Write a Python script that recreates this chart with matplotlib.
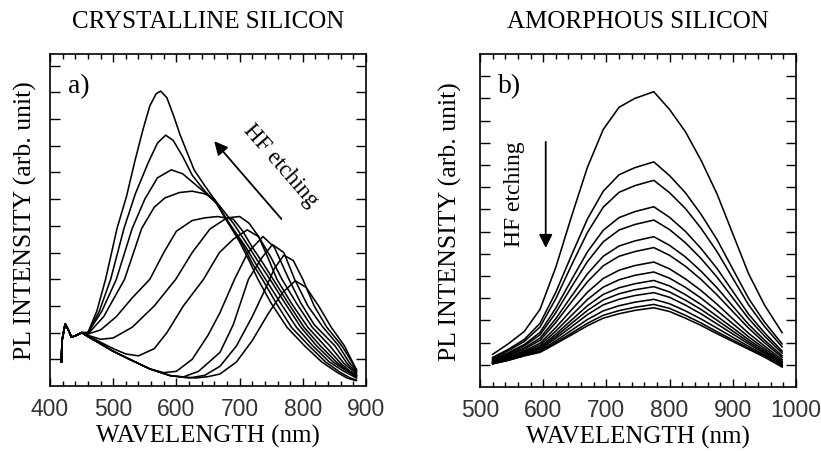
import matplotlib
matplotlib.use('Agg')
import matplotlib.pyplot as plt
from matplotlib.ticker import MultipleLocator

plt.rcParams['font.family'] = 'Liberation Serif'

# ---- crystalline silicon (panel a) ----
# shared start of every spectrum (laser line region)
cs_start_wl = [418, 419, 424, 429, 434, 442, 450]
cs_start_pl = [0.9, 1.7, 2.33, 2.1, 1.83, 1.9, 2.0]

a_wl = [460, 474, 488, 506, 521, 534, 547, 558, 568, 575, 585, 596, 606, 628, 645, 660, 680, 700, 715, 729, 750, 775, 803, 830, 855, 870, 884]
a_pl = [2.0, 2.8, 4.0, 5.9, 7.1, 8.4, 9.6, 10.5, 10.95, 11.05, 10.8, 10.1, 9.4, 8.1, 7.5, 7.0, 6.2, 5.4, 4.7, 4.0, 3.1, 2.2, 1.5, 0.9, 0.5, 0.3, 0.2]
b_wl = [460, 478, 496, 517, 535, 556, 570, 583, 595, 610, 625, 645, 662, 682, 705, 720, 736, 758, 782, 810, 836, 860, 875, 885]
b_pl = [2.0, 2.8, 4.0, 5.9, 7.2, 8.4, 9.1, 9.4, 9.2, 8.6, 7.9, 7.3, 6.9, 6.1, 5.3, 4.6, 4.0, 3.1, 2.2, 1.5, 0.9, 0.5, 0.3, 0.22]
c_wl = [460, 482, 505, 530, 550, 570, 592, 610, 630, 650, 665, 685, 710, 725, 741, 765, 790, 816, 842, 865, 885]
c_pl = [2.0, 2.8, 4.0, 5.9, 7.0, 7.8, 8.1, 7.95, 7.55, 7.15, 6.8, 6.05, 5.2, 4.6, 4.0, 3.1, 2.2, 1.5, 0.9, 0.55, 0.3]
d_wl = [460, 485, 518, 545, 565, 582, 605, 625, 645, 660, 690, 715, 731, 748, 772, 797, 822, 848, 870, 885]
d_pl = [1.95, 2.6, 4.0, 5.9, 6.7, 7.05, 7.25, 7.3, 7.2, 7.0, 6.1, 5.2, 4.6, 4.0, 3.1, 2.2, 1.5, 0.9, 0.55, 0.35]
e_wl = [460, 480, 505, 530, 558, 580, 600, 625, 645, 665, 690, 705, 720, 737, 753, 777, 802, 828, 853, 872, 885]
e_pl = [1.95, 2.1, 2.6, 3.3, 4.0, 5.0, 5.8, 6.2, 6.3, 6.35, 6.25, 5.8, 5.2, 4.6, 4.0, 3.1, 2.2, 1.5, 0.9, 0.55, 0.4]
f_wl = [460, 480, 500, 530, 565, 599, 625, 653, 680, 700, 715, 730, 745, 759, 782, 808, 835, 860, 875, 885]
f_pl = [1.9, 1.75, 1.8, 2.2, 3.0, 4.0, 5.0, 5.88, 6.3, 6.35, 6.1, 5.6, 4.8, 4.0, 3.1, 2.2, 1.5, 0.85, 0.55, 0.4]
g_wl = [460, 475, 500, 520, 540, 565, 585, 611, 643, 668, 690, 712, 730, 750, 767, 790, 815, 843, 865, 885]
g_pl = [1.9, 1.7, 1.4, 1.2, 1.13, 1.4, 2.0, 3.0, 4.0, 5.0, 5.5, 5.85, 5.6, 4.8, 4.0, 3.1, 2.2, 1.5, 0.85, 0.45]
h_wl = [460, 475, 500, 526, 558, 580, 600, 625, 650, 669, 692, 713, 737, 755, 778, 797, 818, 851, 870, 885]
h_pl = [1.85, 1.65, 1.3, 1.0, 0.64, 0.5, 0.55, 1.0, 1.9, 2.75, 4.0, 5.0, 5.6, 5.2, 4.0, 3.1, 2.3, 1.5, 0.85, 0.5]
i_wl = [460, 475, 500, 526, 558, 590, 610, 635, 669, 690, 714, 735, 752, 770, 787, 808, 832, 857, 873, 885]
i_pl = [1.85, 1.65, 1.3, 1.0, 0.64, 0.39, 0.33, 0.55, 1.26, 2.3, 4.0, 4.8, 5.3, 5.0, 4.0, 3.0, 2.2, 1.5, 0.9, 0.55]
j_wl = [460, 475, 500, 526, 558, 590, 620, 645, 669, 695, 720, 740, 755, 770, 785, 800, 818, 838, 862, 875, 885]
j_pl = [1.85, 1.65, 1.3, 1.0, 0.64, 0.39, 0.3, 0.4, 0.74, 1.5, 2.6, 3.6, 4.4, 4.9, 4.7, 4.0, 3.0, 2.2, 1.5, 1.0, 0.6]
k_wl = [460, 475, 500, 526, 558, 590, 630, 650, 669, 695, 720, 745, 768, 788, 805, 825, 845, 866, 885]
k_pl = [1.85, 1.65, 1.3, 1.0, 0.64, 0.39, 0.3, 0.35, 0.45, 0.9, 1.7, 2.7, 3.5, 3.94, 3.7, 3.0, 2.2, 1.5, 0.6]

# ---- amorphous silicon (panel b) ----
asi_wl = [520, 545, 570, 595, 620, 645, 670, 695, 720, 745, 775, 800, 825, 850, 875, 900, 925, 950, 978]
asi_1 = [1.47, 1.95, 2.5, 3.5, 5.4, 7.7, 9.9, 11.6, 12.6, 13.0, 13.3, 12.5, 11.5, 10.2, 8.7, 6.9, 5.1, 3.7, 2.45]
asi_2 = [1.33, 1.70, 2.14, 2.87, 4.27, 5.95, 7.57, 8.82, 9.56, 9.88, 10.14, 9.52, 8.75, 7.77, 6.64, 5.31, 3.99, 2.93, 1.94]
asi_3 = [1.29, 1.64, 2.05, 2.70, 3.98, 5.50, 6.96, 8.10, 8.77, 9.07, 9.31, 8.75, 8.04, 7.14, 6.10, 4.90, 3.70, 2.73, 1.81]
asi_4 = [1.24, 1.55, 1.91, 2.46, 3.56, 4.84, 6.09, 7.06, 7.63, 7.90, 8.12, 7.64, 7.01, 6.23, 5.34, 4.31, 3.28, 2.45, 1.62]
asi_5 = [1.21, 1.50, 1.85, 2.35, 3.35, 4.52, 5.65, 6.54, 7.07, 7.32, 7.52, 7.09, 6.50, 5.78, 4.95, 4.01, 3.08, 2.30, 1.53]
asi_6 = [1.18, 1.45, 1.76, 2.20, 3.08, 4.10, 5.10, 5.89, 6.35, 6.58, 6.77, 6.38, 5.86, 5.21, 4.47, 3.64, 2.82, 2.12, 1.41]
asi_7 = [1.16, 1.41, 1.71, 2.10, 2.91, 3.84, 4.74, 5.46, 5.89, 6.10, 6.28, 5.93, 5.44, 4.84, 4.15, 3.40, 2.65, 2.00, 1.33]
asi_8 = [1.13, 1.36, 1.63, 1.97, 2.68, 3.48, 4.27, 4.89, 5.26, 5.47, 5.63, 5.32, 4.87, 4.34, 3.73, 3.07, 2.42, 1.85, 1.23]
asi_9 = [1.11, 1.32, 1.58, 1.88, 2.52, 3.23, 3.94, 4.50, 4.83, 5.03, 5.18, 4.90, 4.49, 4.00, 3.44, 2.85, 2.26, 1.74, 1.16]
asi_10 = [1.09, 1.29, 1.54, 1.80, 2.38, 3.02, 3.66, 4.17, 4.47, 4.65, 4.80, 4.55, 4.16, 3.71, 3.19, 2.66, 2.13, 1.65, 1.10]
asi_11 = [1.08, 1.27, 1.51, 1.75, 2.28, 2.87, 3.45, 3.92, 4.20, 4.38, 4.52, 4.28, 3.91, 3.49, 3.01, 2.52, 2.03, 1.58, 1.05]
asi_12 = [1.07, 1.25, 1.48, 1.70, 2.19, 2.72, 3.26, 3.70, 3.95, 4.12, 4.25, 4.04, 3.69, 3.29, 2.84, 2.39, 1.94, 1.51, 1.01]
asi_13 = [1.06, 1.23, 1.44, 1.64, 2.08, 2.56, 3.04, 3.43, 3.66, 3.82, 3.95, 3.75, 3.43, 3.06, 2.65, 2.24, 1.83, 1.44, 0.96]
asi_14 = [1.05, 1.21, 1.42, 1.59, 2.00, 2.43, 2.87, 3.23, 3.44, 3.59, 3.72, 3.54, 3.23, 2.88, 2.49, 2.12, 1.75, 1.39, 0.92]
asi_15 = [1.04, 1.20, 1.40, 1.56, 1.95, 2.35, 2.76, 3.10, 3.30, 3.45, 3.57, 3.40, 3.10, 2.77, 2.40, 2.05, 1.70, 1.35, 0.90]

cs_curves = [(a_wl, a_pl), (b_wl, b_pl), (c_wl, c_pl), (d_wl, d_pl), (e_wl, e_pl), (f_wl, f_pl),
             (g_wl, g_pl), (h_wl, h_pl), (i_wl, i_pl), (j_wl, j_pl), (k_wl, k_pl)]
asi_curves = [asi_1, asi_2, asi_3, asi_4, asi_5, asi_6, asi_7, asi_8, asi_9, asi_10,
              asi_11, asi_12, asi_13, asi_14, asi_15]

fig = plt.figure(figsize=(8.21, 4.52), dpi=100)
ax1 = fig.add_axes([50/821, 65/452, 316/821, 332/452])
ax2 = fig.add_axes([480/821, 64/452, 316/821, 333/452])

for wl, pl in cs_curves:
    ax1.plot(cs_start_wl + wl, cs_start_pl + pl, color='black', lw=1.15)
for pl in asi_curves:
    ax2.plot(asi_wl, pl, color='black', lw=1.15)

ax1.set_xlim(400, 900)
ax1.set_ylim(0, 12.44)
ax1.set_xticks([400, 500, 600, 700, 800, 900])
ax1.set_yticks(range(1, 13))
ax2.set_xlim(500, 1000)
ax2.set_ylim(0, 15)
ax2.set_xticks([500, 600, 700, 800, 900, 1000])
ax2.set_yticks(range(1, 15))

for ax in (ax1, ax2):
    ax.xaxis.set_minor_locator(MultipleLocator(20))
    ax.tick_params(which='both', direction='in', top=True, right=True, labelleft=False, width=1.0)
    ax.tick_params(axis='x', which='major', length=6, pad=8, labelsize=16.5, labelcolor='#333333')
    ax.tick_params(axis='x', which='minor', length=3.5)
    ax.tick_params(axis='y', which='major', length=7)
    for lab in ax.get_xticklabels():
        lab.set_fontfamily('Liberation Sans')
    for sp in ax.spines.values():
        sp.set_linewidth(1.2)
    ax.set_xlabel('WAVELENGTH (nm)', fontsize=18)
    ax.set_ylabel('PL INTENSITY (arb. unit)', fontsize=18.5)
    ax.xaxis.set_label_coords(0.5, -0.115)

ax1.yaxis.set_label_coords(-0.041, 0.5)
ax2.yaxis.set_label_coords(-0.057, 0.5)

ax1.text(0.5, 1.081, 'CRYSTALLINE SILICON', transform=ax1.transAxes, ha='center', va='baseline', fontsize=18)
ax2.text(0.5, 1.081, 'AMORPHOUS SILICON', transform=ax2.transAxes, ha='center', va='baseline', fontsize=18)
ax1.text(0.057, 0.886, 'a)', transform=ax1.transAxes, ha='left', va='baseline', fontsize=20)
ax2.text(0.057, 0.886, 'b)', transform=ax2.transAxes, ha='left', va='baseline', fontsize=20)

# HF etching arrows
ax1.annotate('', xy=(657, 9.25), xytext=(769, 6.18),
             arrowprops=dict(arrowstyle='-|>', color='black', lw=1.3, mutation_scale=20))
ax1.text(764, 8.3, 'HF etching', rotation=-49, ha='center', va='center', fontsize=16.5)
ax2.annotate('', xy=(604, 6.14), xytext=(604, 11.17),
             arrowprops=dict(arrowstyle='-|>', color='black', lw=1.3, mutation_scale=20))
ax2.text(554, 8.74, 'HF etching', rotation=90, ha='center', va='center', fontsize=17)

fig.savefig('out.png', dpi=100)
